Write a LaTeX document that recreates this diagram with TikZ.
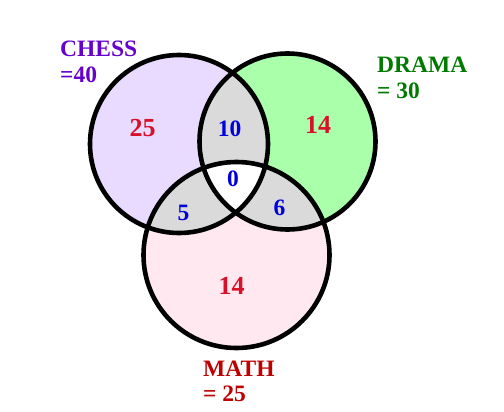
\documentclass[tikz,border=0pt]{standalone}
\usepackage{fontspec}
\setmainfont{Liberation Serif}
\definecolor{chessfill}{HTML}{E9DAFF}
\definecolor{dramafill}{HTML}{AAFFAA}
\definecolor{mathfill}{HTML}{FFE8EF}
\definecolor{overlap}{HTML}{DADADA}
\definecolor{chesstxt}{HTML}{6600CC}
\definecolor{dramatxt}{HTML}{007A00}
\definecolor{mathtxt}{HTML}{C00000}
\definecolor{rednum}{HTML}{D8102A}
\definecolor{bluenum}{HTML}{0000DD}
\begin{document}
\begin{tikzpicture}[x=1pt,y=-1pt,
  ring/.style={draw=black,line width=4.6pt},
  setlabel/.style={anchor=base west,inner sep=0pt,font=\fontsize{23.5}{26}\selectfont\bfseries},
  bignum/.style={anchor=base,inner sep=0pt,text=rednum,font=\fontsize{26}{28}\selectfont\bfseries},
  smallnum/.style={anchor=base,inner sep=0pt,text=bluenum,font=\fontsize{23.5}{25}\selectfont\bfseries}]
\useasboundingbox (0,0) rectangle (504,412);
\def\Cchess{(179,144) circle[radius=89]}
\def\Cdrama{(287.5,141.5) circle[radius=88]}
\def\Cmath{(236.5,255) circle[radius=93]}
% base fills
\fill[chessfill] \Cchess;
\fill[dramafill] \Cdrama;
\fill[mathfill] \Cmath;
% pairwise overlaps
\begin{scope}\clip \Cchess; \fill[overlap] \Cdrama; \fill[overlap] \Cmath; \end{scope}
\begin{scope}\clip \Cdrama; \fill[overlap] \Cmath; \end{scope}
% triple overlap
\begin{scope}\clip \Cchess; \clip \Cdrama; \fill[white] \Cmath; \end{scope}
% outlines
\draw[ring] \Cchess;
\draw[ring] \Cdrama;
\draw[ring] \Cmath;
% set labels
\node[setlabel,text=chesstxt] (chess) at (60,57) {CHESS};
\node[setlabel,text=chesstxt] (chessn) at (60,83) {=40};
\node[setlabel,text=dramatxt] (drama) at (377,73) {DRAMA};
\node[setlabel,text=dramatxt] (raman) at (377,99) {= 30};
\node[setlabel,text=mathtxt] (math) at (203,376) {MATH};
\node[setlabel,text=mathtxt] (mathn) at (203,401) {= 25};
% region counts
\node[bignum] (conly) at (142.5,136) {25};
\node[bignum] (donly) at (318,133) {14};
\node[bignum] (monly) at (231.5,294) {14};
\node[smallnum] (cd) at (229.5,136) {10};
\node[smallnum] (cdm) at (233,186) {0};
\node[smallnum] (cm) at (183.5,220) {5};
\node[smallnum] (dm) at (279.5,215) {6};
\end{tikzpicture}
\end{document}
